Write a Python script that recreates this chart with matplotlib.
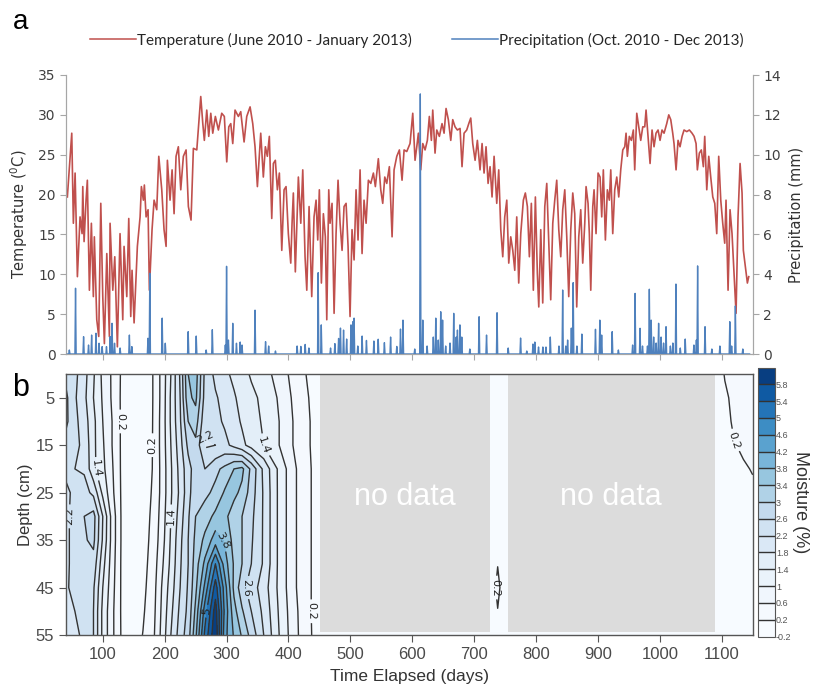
import numpy as np
import matplotlib
matplotlib.use("Agg")
import matplotlib.pyplot as plt
from matplotlib.colors import ListedColormap
from matplotlib.patches import Rectangle
from matplotlib.lines import Line2D

plt.rcParams['axes.unicode_minus'] = False

# ---------------- data: panel a ----------------
temp_day = [42.8, 49.9, 52.5, 55.3, 59, 63.3, 66.6, 67.7, 69.8, 73, 75.1, 78.4, 81.6, 84.8, 86.4, 90.3, 93.5, 96.8,
            100, 102.6, 106.5, 110.7, 111.8, 116.2, 119.4, 123.6, 127.9, 132.3, 134.4, 138.8, 142, 145.2, 147.3,
            150.6, 155.9, 160.3, 162.4, 165.6, 167.2, 170, 173.2, 175.3, 179.6, 182.9, 187.2, 190.5, 195.3, 199,
            202.3, 204.4, 208.7, 212, 215.2, 218.4, 222.1, 226, 230.2, 234.6, 238.3, 242.6, 246.4, 251.9, 255.1,
            258.3, 261.6, 264.1, 268, 271.2, 274.5, 277.7, 281.9, 286.8, 292.2, 296.4, 300.3, 303.6, 306.8, 310,
            313.7, 319.1, 322.9, 328.3, 332.6, 338, 342.3, 346, 349.8, 355.2, 359.4, 362.7, 365.9, 369.1, 373,
            375.6, 378.8, 382.1, 385.3, 389.2, 392.9, 396.1, 399.8, 403.7, 405.8, 407.9, 411.1, 416, 419.9, 423.1,
            426.8, 429.6, 433.3, 437.6, 441.3, 444.6, 447.3, 449.9, 453.2, 456.4, 459.6, 461.9, 465.1, 467.2,
            470.4, 473.7, 476.9, 480.1, 483.4, 486.6, 489.8, 493.1, 496.3, 499.5, 502.7, 506, 509.2, 512.4, 515.7,
            518.9, 522.1, 525.4, 529.1, 533, 537.2, 540.4, 545.2, 549.1, 552.3, 555.6, 558.8, 563, 567.4, 570.6,
            575, 579.2, 583.5, 586.8, 591.1, 596.4, 600.8, 604.5, 607.3, 609.9, 613.7, 617, 620.7, 624.4, 627.6,
            630.9, 633.1, 636.8, 639.6, 643.8, 648.1, 651.4, 654.6, 658.3, 662.2, 665.4, 669.1, 672.9, 677.2,
            680.4, 683.7, 688, 691.3, 694.5, 697.7, 701.5, 705.2, 709.5, 712.8, 716, 719.2, 722.5, 725.7, 728.9,
            732.2, 736.5, 739.7, 743, 746.2, 749.4, 752.7, 755.9, 759.1, 762.4, 765.6, 768.8, 772, 775.3, 779.5,
            782.7, 786, 789.2, 792.4, 795.6, 798.9, 802.1, 804.4, 807.6, 810.8, 814.1, 817.3, 820.5, 823.7, 827,
            830.2, 833.4, 836.7, 839.9, 843.1, 846.4, 849.6, 852.8, 856.1, 859.3, 862.5, 865.7, 869, 872.2, 875.4,
            878.7, 880.8, 884, 886.1, 888.4, 891.6, 893.7, 896.9, 900.2, 903.4, 906.1, 908.7, 912, 915.2, 918.4,
            920.7, 923.9, 927.1, 930.4, 933.6, 936.8, 940.1, 943.3, 945.4, 947.5, 950.7, 954, 957.2, 959.4, 962.7,
            965.9, 969.1, 972.4, 975.6, 977.7, 980.9, 984.2, 987.4, 990.6, 993.8, 997.1, 1000.3, 1003.5, 1006.8,
            1011.1, 1014.4, 1017.6, 1020.8, 1022.9, 1026.2, 1029.4, 1032.6, 1035.9, 1039.1, 1043.5, 1047.7, 1052,
            1055.3, 1058.5, 1060.6, 1063.8, 1067, 1070.3, 1072.5, 1075.8, 1079, 1082.2, 1085.5, 1088.7, 1091.9,
            1095.1, 1098.4, 1101.6, 1104.8, 1106.9, 1110.2, 1113.4, 1116.6, 1119.9, 1123.1, 1126.3, 1129.6,
            1132.8, 1134.9, 1138.1, 1141.4, 1143.6]
temp_c = [19.7, 27.7, 16.4, 22.7, 9.7, 17.2, 15.1, 21, 14.1, 19.3, 21.8, 8, 16.4, 7.2, 14.7, 4.3, 2.2, 18.9,
          7.2, 1.3, 12.6, 2.2, 16.4, 8, 12.2, 0.9, 15.1, 4.3, 13.5, 7.2, 17, 4.7, 10.5,
          3.9, 13.5, 17.2, 21, 19.3, 21.2, 17.2, 18.1, 8, 15.6, 19.3, 18.1, 24.8, 20.6, 15.6,
          13.5, 24.3, 19.3, 23.1, 17.6, 24.8, 26, 20.6, 24.8, 25.6, 18.5, 16.8, 25.8, 25.6, 28.9,
          32.3, 28.9, 26.8, 30.6, 27.3, 30.2, 27.7, 29.8, 28.1, 30.2, 29.8, 24.1, 28.5, 28.9, 26.4,
          30.6, 29.8, 30.4, 26.6, 29.8, 31, 28.9, 26, 21, 27.7, 22.2, 26, 24.8, 27.3, 17,
          23.9, 24.3, 20.6, 22.7, 13, 20.6, 21, 15.1, 11.4, 16.4, 20.2, 10.3, 22.2, 16.4, 23.1,
          12.2, 8, 18.5, 7.2, 17.2, 19.3, 14.3, 20.6, 8.9, 17.6, 14.7, 4.3, 20.6, 16.4,
          18.9, 5.1, 15.1, 21.8, 16.4, 13, 18.5, 18.9, 13.5, 4.7, 15.6, 11.8, 20.6, 14.3, 23.1,
          12.6, 19.3, 16.4, 21.8, 21.4, 22.7, 21, 24.5, 20.6, 18.9, 22.2, 21.4, 23.5, 14.7, 23.1,
          24.8, 25.6, 21.8, 25.6, 25.4, 26.4, 30.2, 24.3, 26, 27.7, 23.1, 26.4, 25.6, 26.8, 29.8,
          26.8, 30.6, 25.2, 28.1, 27.3, 28.9, 27.7, 30.8, 29.4, 26.8, 29.4, 28.5, 28.1, 28.3,
          23.5, 27.7, 28.1, 28.9, 29.6, 26.4, 24.3, 26.8, 23.1, 26.4, 22.7, 26, 21.4, 23.5, 19.7,
          24.8, 18.9, 23.1, 15.6, 12.2, 17.2, 19.3, 11.4, 14.7, 13, 10.5, 17.2, 8.9, 15.1, 19.3,
          20.2, 18.5, 12.2, 18.9, 8, 19.7, 10.1, 5.9, 15.6, 6.4, 18.5, 21.4, 13.9, 6.8, 16.4,
          19.3, 21.8, 15.6, 12.2, 18.1, 20.6, 14.7, 7.2, 15.6, 20.2, 17.6, 5.9, 14.7, 18.1, 11.4,
          16.4, 21, 18.9, 15.1, 8, 18.5, 20.6, 15.1, 22.7, 22.2, 17.2, 23.1, 14.3, 20.6, 19.3,
          23.1, 15.1, 20.6, 22.2, 19.7, 23.1, 25.6, 26, 27.7, 24.8, 27.3, 26.8, 28.1, 23.1, 30.2,
          28.5, 26.8, 28.5, 28.5, 30.6, 27.3, 23.9, 28.1, 26, 27.7, 28.1, 26.8, 28.1, 27.7,
          28.9, 30, 29.4, 27.7, 26.4, 23.1, 26.8, 26, 27.3, 28.1, 27.9, 28.1, 27.7,
          27.3, 26.4, 23.1, 25.2, 25.6, 23.5, 27.3, 20.6, 24.8, 22.2, 19.7, 18.9, 15.1,
          24.8, 19.3, 16.4, 13.9, 19.3, 8, 18.1, 15.1, 10.1, 5.1, 17.2, 23.9,
          20.2, 13, 11, 8.9, 9.7]

precip_day = [46, 56, 69, 77, 82, 89, 94, 99, 106, 112, 115, 119, 128, 143, 147, 173, 176, 196, 201, 238, 251,
              267, 277, 298, 300, 303, 310, 316, 322, 325, 346, 363, 368, 379, 414, 420, 427, 433, 448, 453,
              468, 475, 481, 484, 489, 494, 501, 504, 506, 512, 519, 526, 538, 545, 555, 565, 575, 581, 585,
              604, 613, 617, 624, 634, 638, 642, 646, 649, 654, 661, 667, 671, 673, 677, 680, 693, 708, 720,
              737, 755, 775, 785, 795, 798, 804, 811, 816, 823, 837, 843, 848, 851, 857, 860, 866, 874, 896,
              903, 906, 923, 933, 956, 960, 968, 972, 980, 983, 986, 990, 994, 998, 1002, 1006, 1010, 1017,
              1021, 1026, 1033, 1041, 1055, 1059, 1061, 1073, 1084, 1097, 1113, 1116, 1122, 1134]
precip_mm = [0.2, 3.3, 0.87, 0.45, 0.95, 1.04, 0.54, 0.37, 0.37, 0.87, 1.54, 0.54, 0.3, 0.95, 0.37, 0.79, 4.05,
             1.8, 0.54, 1.12, 0.9, 0.2, 1.22, 0.45, 4.4, 0.7, 1.54, 0.54, 0.6, 0.45, 2.2, 0.62, 0.4, 0.15,
             0.4, 0.38, 0.48, 0.3, 4.08, 1.46, 0.3, 0.52, 0.78, 1.3, 1.2, 0.75, 1.46, 1.62, 1.8, 0.4, 0.9,
             0.68, 0.65, 0.74, 0.57, 0.85, 0.38, 1.25, 1.7, 0.25, 13.05, 1.7, 0.4, 0.85, 1.8, 0.7, 2.12, 1.7,
             0.4, 0.55, 2.04, 0.85, 1.2, 1.46, 0.85, 0.25, 1.87, 0.95, 2.07, 0.3, 0.8, 0.15, 0.5, 0.6, 0.35,
             0.35, 0.35, 0.85, 0.4, 3.21, 0.4, 0.7, 1.3, 3.58, 0.4, 1.0, 1.24, 1.7, 0.95, 1.12, 0.2, 0.45,
             3.04, 1.29, 0.4, 0.4, 3.25, 1.7, 0.85, 0.55, 1.54, 0.85, 0.55, 1.37, 0.4, 0.55, 3.51, 0.3, 0.75,
             0.45, 0.7, 4.42, 1.37, 0.25, 0.4, 1.62, 0.4, 2.41, 0.25]
precip_first_day, precip_last_day = 43, 1145

temp_ticks = [0, 5, 10, 15, 20, 25, 30, 35]
precip_ticks = [0, 2, 4, 6, 8, 10, 12, 14]

# ---------------- data: panel b ----------------
moist_depth = [0, 5, 10, 15, 20, 25, 30, 35, 40, 45, 50, 55]
moist_day = [40, 55, 70, 85, 100, 115, 130, 150, 165, 180, 195, 210, 225, 238, 250, 265, 282, 297, 312, 325,
             340, 360, 385, 410, 435, 450, 725, 738, 752, 1090, 1105, 1120, 1135, 1150]
moist_val = [
    [2.5, 2.7, 2.7, 2.45, 2.25, 2.15, 2.1, 2.1, 2.1, 2.15, 2.15, 2.1],
    [2.3, 2.25, 2.3, 2.3, 2.2, 2.25, 2.35, 2.35, 2.35, 2.3, 2.2, 2.1],
    [1.95, 1.9, 2.0, 2.1, 2.15, 2.35, 2.6, 2.55, 2.45, 2.35, 2.3, 2.3],
    [1.45, 1.4, 1.5, 1.5, 1.5, 2.1, 2.75, 2.7, 2.45, 2.25, 2.2, 2.2],
    [0.9, 0.95, 1.0, 1.05, 1.1, 1.3, 1.8, 1.75, 1.55, 1.4, 1.3, 1.3],
    [0.55, 0.55, 0.6, 0.6, 0.65, 0.7, 0.85, 0.85, 0.8, 0.75, 0.7, 0.7],
    [0.16, 0.15, 0.15, 0.15, 0.15, 0.16, 0.17, 0.17, 0.16, 0.16, 0.16, 0.17],
    [0.03, 0.03, 0.03, 0.03, 0.03, 0.03, 0.03, 0.03, 0.03, 0.03, 0.04, 0.05],
    [0.03, 0.03, 0.03, 0.03, 0.04, 0.05, 0.06, 0.07, 0.09, 0.12, 0.16, 0.21],
    [0.17, 0.17, 0.18, 0.19, 0.2, 0.22, 0.25, 0.28, 0.32, 0.36, 0.4, 0.45],
    [0.7, 0.7, 0.72, 0.72, 0.7, 0.7, 0.75, 0.8, 0.9, 1.0, 1.05, 1.1],
    [1.4, 1.45, 1.45, 1.4, 1.35, 1.35, 1.4, 1.45, 1.5, 1.6, 1.7, 1.8],
    [2.25, 2.2, 2.15, 2.05, 1.95, 1.9, 2.0, 2.1, 2.15, 2.2, 2.3, 2.4],
    [3.4, 3.3, 3.0, 2.7, 2.45, 2.45, 2.55, 2.6, 2.6, 2.65, 2.7, 2.8],
    [3.6, 3.5, 3.2, 2.9, 2.8, 2.9, 3.0, 3.1, 3.2, 3.3, 3.5, 3.7],
    [2.5, 2.45, 2.3, 2.15, 2.6, 2.9, 3.2, 3.5, 3.9, 4.3, 4.8, 5.1],
    [2.1, 2.25, 2.3, 2.2, 2.9, 3.1, 3.5, 4.0, 5.0, 5.6, 6.0, 6.15],
    [1.9, 2.05, 2.15, 2.3, 3.1, 3.45, 3.5, 3.75, 4.0, 4.4, 4.5, 4.35],
    [1.7, 1.85, 1.95, 2.1, 3.4, 3.5, 3.2, 3.25, 3.35, 3.3, 3.55, 3.75],
    [1.55, 1.65, 1.75, 1.9, 3.5, 3.3, 3.0, 3.0, 3.0, 2.75, 3.05, 3.35],
    [1.35, 1.5, 1.55, 1.65, 2.9, 2.8, 2.7, 2.65, 2.6, 2.4, 2.6, 2.85],
    [1.15, 1.3, 1.35, 1.4, 2.1, 2.15, 2.15, 2.15, 2.15, 2.0, 2.1, 2.2],
    [0.85, 0.95, 1.0, 1.0, 1.3, 1.3, 1.3, 1.3, 1.3, 1.3, 1.35, 1.4],
    [0.42, 0.5, 0.55, 0.55, 0.65, 0.65, 0.65, 0.65, 0.65, 0.65, 0.7, 0.72],
    [0.12, 0.17, 0.2, 0.2, 0.22, 0.22, 0.22, 0.22, 0.22, 0.22, 0.22, 0.23],
    [0.05, 0.05, 0.05, 0.05, 0.05, 0.05, 0.05, 0.05, 0.05, 0.05, 0.05, 0.05],
    [0, 0, 0, 0, 0, 0, 0, 0, 0, 0, 0, 0],
    [0, 0, 0, 0, 0, 0, 0, 0.05, 0.19, 0.27, 0.19, 0.05],
    [0, 0, 0, 0, 0, 0, 0, 0, 0, 0, 0, 0],
    [0, 0, 0, 0, 0, 0, 0, 0, 0, 0, 0, 0],
    [0.22, 0.15, 0.12, 0.08, 0.05, 0.03, 0.02, 0.01, 0, 0, 0, 0],
    [0.32, 0.27, 0.24, 0.19, 0.12, 0.07, 0.04, 0.02, 0.01, 0, 0, 0],
    [0.34, 0.31, 0.27, 0.23, 0.18, 0.12, 0.07, 0.04, 0.02, 0.01, 0, 0],
    [0.36, 0.33, 0.29, 0.25, 0.21, 0.17, 0.11, 0.06, 0.03, 0.02, 0.01, 0],
]
moist_levels = [-0.2, 0.2, 0.6, 1.0, 1.4, 1.8, 2.2, 2.6, 3.0, 3.4, 3.8, 4.2, 4.6, 5.0, 5.4, 5.8, 6.2]
nodata_spans = [(451, 725), (754, 1089)]
depth_ticks = [5, 15, 25, 35, 45, 55]
day_ticks = [100, 200, 300, 400, 500, 600, 700, 800, 900, 1000, 1100]
# contour labels: (level, day, depth)
contour_label_spots = [(0.2, 122, 8), (0.2, 180, 15), (1.4, 88, 20), (2.2, 55, 28), (1.4, 211, 30),
                       (2.2, 262, 13), (1.4, 357, 13), (3.8, 290, 35), (5.0, 278, 48), (2.6, 330, 46),
                       (0.2, 436, 50), (0.2, 738, 46), (0.2, 1122, 14)]

# ---------------- figure ----------------
W, H = 813, 698
fig = plt.figure(figsize=(W / 100, H / 100), dpi=100)

def fr(x0, y0, x1, y1):
    return [x0 / W, 1 - y1 / H, (x1 - x0) / W, (y1 - y0) / H]

XLIM = (40.6, 1150)
red = '#c0504d'
blue = '#4f81bd'
axis_gray = '#a6a6a6'
txt = '#404040'

# ---- panel a ----
ax1 = fig.add_axes(fr(66, 75, 752.7, 354))
ax1.plot(temp_day, temp_c, color=red, lw=1.2, zorder=2)
ax1.set_xlim(*XLIM)
ax1.set_ylim(0, 35)
ax1.set_yticks(temp_ticks)
ax1.set_xticks(day_ticks)
ax1.tick_params(axis='x', direction='out', length=4, color=axis_gray, labelbottom=False)
ax1.tick_params(axis='y', direction='out', length=4, color=axis_gray, labelsize=10, labelcolor=txt)
ax1.spines['top'].set_visible(False)
for s in ['left', 'bottom', 'right']:
    ax1.spines[s].set_color(axis_gray)
ax1.set_ylabel('Temperature ($^0$C)', fontsize=10.5, color='#333333', labelpad=6)

ax2 = ax1.twinx()
pdays = np.arange(precip_first_day, precip_last_day + 1)
pvals = np.zeros(len(pdays))
for d, v in zip(precip_day, precip_mm):
    i = int(round(d)) - precip_first_day
    pvals[i] = max(pvals[i], v)
ax2.plot(pdays, pvals, color=blue, lw=1.0, zorder=3)
ax2.set_ylim(0, 14)
ax2.set_yticks(precip_ticks)
ax2.set_xlim(*XLIM)
ax2.tick_params(axis='y', direction='out', length=4, color=axis_gray, labelsize=10, labelcolor=txt)
ax2.spines['top'].set_visible(False)
for s in ['left', 'bottom', 'right']:
    ax2.spines[s].set_color(axis_gray)
ax2.set_ylabel('Precipitation (mm)', fontsize=10.5, color='#333333', labelpad=6)

h1 = Line2D([], [], color=red, lw=1.1)
h2 = Line2D([], [], color=blue, lw=1.1)
leg = fig.legend([h1, h2], ['Temperature (June 2010 - January 2013)', 'Precipitation (Oct. 2010 - Dec 2013)'],
                 loc='center', bbox_to_anchor=(417 / W, 1 - 40 / H), ncol=2, frameon=False,
                 handlelength=3.0, handletextpad=0.1, columnspacing=2.6,
                 prop={'family': 'Lato', 'size': 11})
for t in leg.get_texts():
    t.set_color('#262626')

fig.text(13 / W, 1 - 29 / H, 'a', fontsize=20, family='Liberation Sans', va='baseline', ha='left')
fig.text(12 / W, 1 - 396 / H, 'b', fontsize=22, family='Liberation Sans', va='baseline', ha='left')

# ---- panel b ----
ax3 = fig.add_axes(fr(66, 374, 752.7, 635))
Z = np.array(moist_val).T
levels = np.array(moist_levels)
nb = len(levels) - 1
cmap_colors = [plt.get_cmap('Blues')(((i + 0.5) / nb) ** 1.8) for i in range(nb)]
cmap_colors[0] = (0.97, 0.984, 1.0, 1.0)
cmap = ListedColormap(cmap_colors)
cf = ax3.contourf(moist_day, moist_depth, Z, levels=levels, cmap=cmap)
cs = ax3.contour(moist_day, moist_depth, Z, levels=levels[1:-1], colors='#333333', linewidths=1.0)

ax3.set_xlim(*XLIM)
ax3.set_ylim(55, 0)

cs_levels = np.array(cs.levels)
for lev, dx, dy in contour_label_spots:
    k = int(np.argmin(np.abs(cs_levels - lev)))
    target = ax3.transData.transform((dx, dy))
    best = None
    for seg in cs.allsegs[k]:
        if len(seg) == 0:
            continue
        disp = ax3.transData.transform(seg)
        dist = np.hypot(disp[:, 0] - target[0], disp[:, 1] - target[1])
        j = int(np.argmin(dist))
        if best is None or dist[j] < best[0]:
            best = (dist[j], seg[j])
    if best is None:
        continue
    try:
        ax3.clabel(cs, manual=[(float(best[1][0]), float(best[1][1]))], inline=True, fontsize=8,
                   fmt='%g', colors='#222222', inline_spacing=3)
    except Exception:
        pass

for a, b in nodata_spans:
    ax3.add_patch(Rectangle((a, 0.25), b - a, 54.1, facecolor='#dcdcdc', edgecolor='none', zorder=5))
    ax3.text((a + b) / 2, 26, 'no data', color='white', fontsize=22, family='Liberation Sans',
             ha='center', va='center', zorder=6)

ax3.set_yticks(depth_ticks)
ax3.set_xticks(day_ticks)
for s in ax3.spines.values():
    s.set_color('#555555')
    s.set_linewidth(1.0)
    s.set_zorder(10)
ax3.tick_params(direction='out', length=5, color='#555555', labelsize=12, labelcolor='#4a4a4a')
for lab in ax3.get_xticklabels() + ax3.get_yticklabels():
    lab.set_family('Liberation Sans')
ax3.set_xlabel('Time Elapsed (days)', fontsize=12.5, family='Liberation Sans', color='#333333', labelpad=5)
ax3.set_ylabel('Depth (cm)', fontsize=12, family='Liberation Sans', color='#333333', labelpad=2)

cax = fig.add_axes(fr(758, 367.5, 774.5, 636.5))
cbar = fig.colorbar(cf, cax=cax, ticks=levels[:-1])
cbar.add_lines(cs)
cbar.lines[-1].set_color('#333333')
cbar.ax.tick_params(length=0, labelsize=6.5, labelcolor='#555555', pad=1)
cbar.outline.set_edgecolor('#555555')
cbar.ax.set_yticklabels(['%g' % v for v in levels[:-1]])
for lab in cbar.ax.get_yticklabels():
    lab.set_family('Liberation Sans')
cbar.set_label('Moisture (%)', rotation=270, fontsize=13, family='Liberation Sans', color='#333333', labelpad=13)

fig.savefig('out.png', dpi=100)
